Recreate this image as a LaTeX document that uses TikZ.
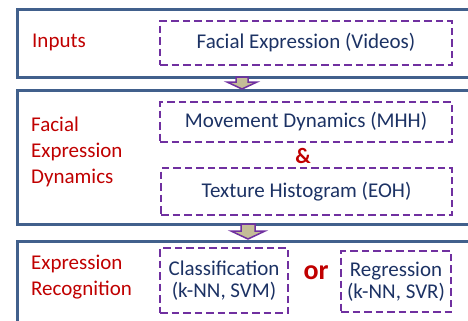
\documentclass[tikz,border=0pt]{standalone}
\usepackage{fontspec}
\setmainfont{Carlito}
\definecolor{frame}{RGB}{65,96,140}
\definecolor{dashc}{RGB}{112,48,160}
\definecolor{navy}{RGB}{28,50,100}
\definecolor{lab}{RGB}{192,0,0}
\definecolor{tan}{RGB}{196,189,151}
\tikzset{
  panel/.style={draw=frame,line width=2.6bp,rectangle,inner sep=0pt},
  dbox/.style={draw=dashc,line width=2bp,dash pattern=on 7.5bp off 4bp,rectangle,inner sep=0pt,
     text=navy,font=\fontsize{21bp}{22bp}\selectfont,align=center},
  lbl/.style={text=lab,font=\fontsize{21bp}{26bp}\selectfont,align=left,anchor=west,inner sep=0pt},
  blockarrow/.style={draw=dashc,fill=tan,line width=1.5bp,line join=miter}
}
\begin{document}
\begin{tikzpicture}[x=1bp,y=-1bp]
\useasboundingbox (0,0) rectangle (468,320);
\clip (0,0) rectangle (468,320);
% panels
\node[panel,minimum width=470bp,minimum height=68bp,anchor=north west] (p1) at (16,8) {};
\node[panel,minimum width=470bp,minimum height=134bp,anchor=north west] (p2) at (16,89) {};
\node[panel,minimum width=470bp,minimum height=100bp,anchor=north west] (p3) at (16,240) {};
% labels
\node[lbl] (l1) at (32,42) {Inputs};
\node[lbl] (l2) at (31,152) {Facial\\Expression\\Dynamics};
\node[lbl] (l3) at (31,277) {Expression\\Recognition};
% dashed boxes
\node[dbox,minimum width=292bp,minimum height=44bp] (d1) at (306,43) {Facial Expression (Videos)};
\node[dbox,minimum width=292bp,minimum height=40bp] (d2) at (306,122) {Movement Dynamics (MHH)};
\node[text=lab,font=\fontsize{22bp}{22bp}\selectfont\bfseries] (amp) at (303,156) {\&};
\node[dbox,minimum width=291bp,minimum height=47bp] (d3) at (306.5,191.5) {Texture Histogram (EOH)};
\node[dbox,minimum width=128bp,minimum height=65bp] (d4) at (224,280.5) {Classification\\(k-NN, SVM)};
\node[text=lab,font=\fontsize{28bp}{28bp}\selectfont\bfseries] (or) at (316,273) {or};
\node[dbox,minimum width=110bp,minimum height=61bp] (d5) at (396,281.5) {Regression\\(k-NN, SVR)};
% block arrows
\coordinate (a1) at (242,77);
\draw[blockarrow] (a1) ++(-6,0) -- ++(12,0) -- ++(0,5) -- ++(9,0) -- ++(-15,7) -- ++(-15,-7) -- ++(9,0) -- cycle;
\coordinate (a2) at (248,224);
\draw[blockarrow] (a2) ++(-7,0) -- ++(14,0) -- ++(0,7) -- ++(10,0) -- ++(-17,8) -- ++(-17,-8) -- ++(10,0) -- cycle;
\end{tikzpicture}
\end{document}
